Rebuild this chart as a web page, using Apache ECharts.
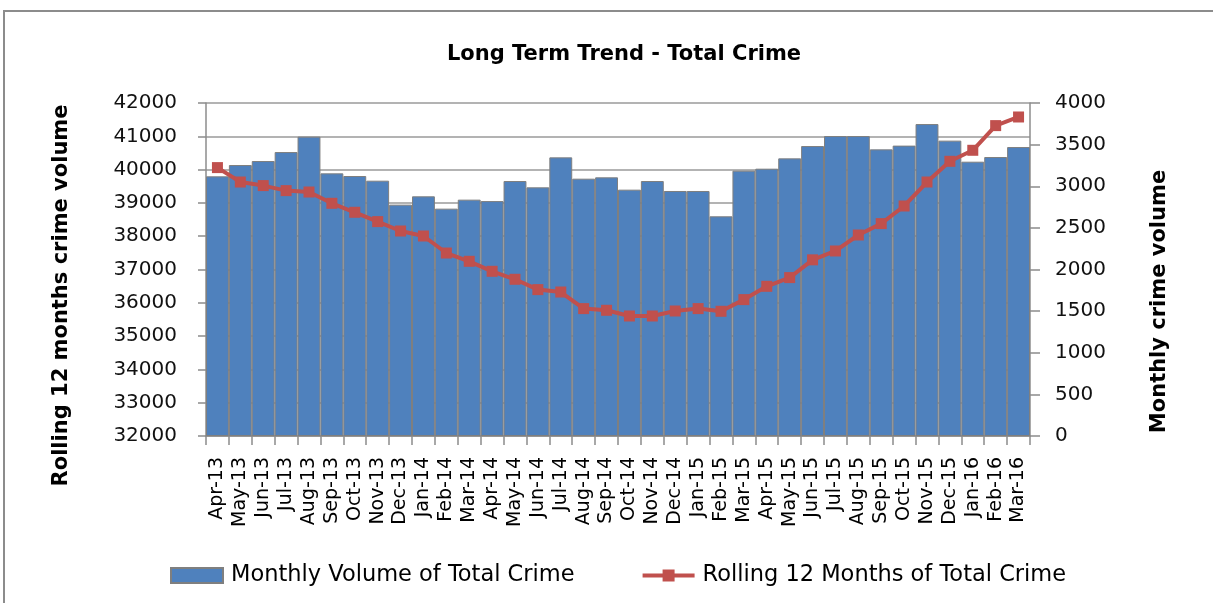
<!DOCTYPE html>
<html>
<head>
<meta charset="utf-8">
<script src="https://cdn.jsdelivr.net/npm/echarts@6/dist/echarts.min.js"></script>
<style>
  html, body { margin: 0; padding: 0; background: #fff; }
  #chart { width: 1213px; height: 603px; }
</style>
</head>
<body>
<div id="chart"></div>
<script>
var months = ['Apr-13', 'May-13', 'Jun-13', 'Jul-13', 'Aug-13', 'Sep-13', 'Oct-13', 'Nov-13', 'Dec-13',
  'Jan-14', 'Feb-14', 'Mar-14', 'Apr-14', 'May-14', 'Jun-14', 'Jul-14', 'Aug-14', 'Sep-14', 'Oct-14',
  'Nov-14', 'Dec-14', 'Jan-15', 'Feb-15', 'Mar-15', 'Apr-15', 'May-15', 'Jun-15', 'Jul-15', 'Aug-15',
  'Sep-15', 'Oct-15', 'Nov-15', 'Dec-15', 'Jan-16', 'Feb-16', 'Mar-16'];

// monthly volume (right axis)
var monthlyVolume = [3119, 3255, 3303, 3411, 3596, 3155, 3123, 3067, 2779, 2879, 2731, 2839,
  2822, 3063, 2987, 3347, 3091, 3107, 2959, 3063, 2943, 2943, 2639, 3187,
  3211, 3335, 3483, 3603, 3603, 3443, 3488, 3747, 3548, 3295, 3351, 3471];

// rolling 12 months (left axis)
var rolling12 = [40060, 39627, 39520, 39369, 39327, 38988, 38718, 38438, 38156, 38006, 37495, 37246,
  36946, 36706, 36396, 36324, 35826, 35775, 35604, 35604, 35754, 35826, 35745, 36096,
  36495, 36757, 37290, 37556, 38036, 38378, 38907, 39627, 40249, 40580, 41321, 41580];

var font = "'DejaVu Sans', sans-serif";
var chart = echarts.init(document.getElementById('chart'));

function plain(v) { return String(v); }

var option = {
  animation: false,
  textStyle: { fontFamily: font },
  graphic: [{
    type: 'rect',
    shape: { x: 4, y: 11, width: 1230, height: 640 },
    style: { fill: 'none', stroke: '#8c8c8c', lineWidth: 2 },
    silent: true
  }],
  title: {
    text: 'Long Term Trend - Total Crime',
    left: 619,
    textAlign: 'center',
    top: 39,
    textStyle: { fontSize: 21, fontWeight: 'bold', color: '#000', fontFamily: font }
  },
  legend: {
    left: 170,
    top: 564,
    padding: 0,
    itemWidth: 52,
    itemHeight: 15,
    itemGap: 66,
    textStyle: { fontSize: 22.5, color: '#000', fontFamily: font, padding: [0, 0, 0, 3] },
    data: [
      { name: 'Monthly Volume of Total Crime', icon: 'rect' },
      { name: 'Rolling 12 Months of Total Crime', lineStyle: { width: 4, color: '#c0504d' } }
    ]
  },
  grid: { left: 206, right: 183, top: 103, bottom: 167 },
  xAxis: {
    type: 'category',
    data: months,
    axisLine: { lineStyle: { color: '#8c8c8c', width: 1.5 } },
    axisTick: { show: true, length: 9, interval: 0, lineStyle: { color: '#8c8c8c', width: 1.5 } },
    axisLabel: { rotate: 90, interval: 0, fontSize: 19, color: '#000', margin: 21 }
  },
  yAxis: [{
    type: 'value',
    min: 32000,
    max: 42000,
    interval: 1000,
    name: 'Rolling 12 months crime volume',
    nameLocation: 'middle',
    nameGap: 134,
    nameTextStyle: { fontSize: 21, fontWeight: 'bold', color: '#000', padding: [0, 52, 0, 0] },
    axisLine: { show: true, lineStyle: { color: '#8c8c8c', width: 1.5 } },
    axisTick: { show: true, length: 8, lineStyle: { color: '#8c8c8c', width: 1.5 } },
    axisLabel: { fontSize: 20, color: '#111', margin: 29, formatter: plain },
    splitLine: { show: true, lineStyle: { color: '#9a9a9a', width: 1.5 } }
  }, {
    type: 'value',
    min: 0,
    max: 4000,
    interval: 500,
    name: 'Monthly crime volume',
    nameLocation: 'middle',
    nameGap: 119,
    nameRotate: 90,
    nameTextStyle: { fontSize: 21, fontWeight: 'bold', color: '#000', padding: [0, 64, 0, 0] },
    axisLine: { show: true, lineStyle: { color: '#8c8c8c', width: 1.5 } },
    axisTick: { show: true, length: 10, lineStyle: { color: '#8c8c8c', width: 1.5 } },
    axisLabel: { fontSize: 20, color: '#111', margin: 25, formatter: plain },
    splitLine: { show: false }
  }],
  series: [{
    name: 'Monthly Volume of Total Crime',
    type: 'bar',
    yAxisIndex: 1,
    barCategoryGap: 0,
    data: monthlyVolume,
    itemStyle: { color: '#4f81bd', borderColor: '#7f7f7f', borderWidth: 1 }
  }, {
    name: 'Rolling 12 Months of Total Crime',
    type: 'line',
    yAxisIndex: 0,
    data: rolling12,
    symbol: 'rect',
    symbolSize: 11,
    lineStyle: { color: '#c0504d', width: 4 },
    itemStyle: { color: '#c0504d' }
  }]
};

chart.setOption(option);
</script>
</body>
</html>
